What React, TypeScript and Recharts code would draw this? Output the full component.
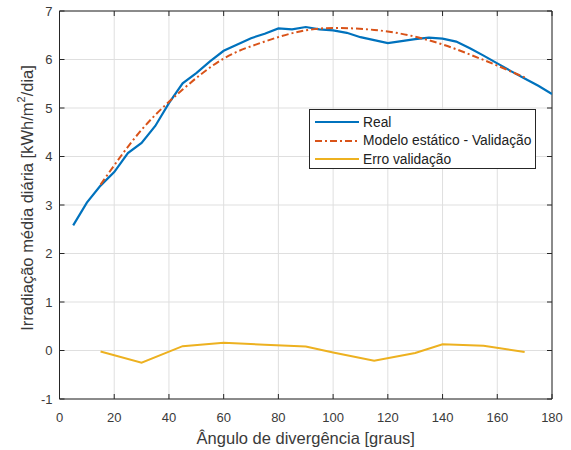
import React from 'react';
import {
    LineChart, Line, XAxis, YAxis, CartesianGrid, Legend, ReferenceLine, Label,
} from 'recharts';

// angles in degrees
const realAngles = [5, 10, 15, 20, 25, 30, 35, 40, 45, 50, 55, 60, 65, 70, 75, 80, 85, 90,
    95, 100, 105, 110, 115, 120, 125, 130, 135, 140, 145, 150, 155, 160, 165, 170, 175, 180];
const realValues = [2.58, 3.05, 3.40, 3.68, 4.07, 4.28, 4.63, 5.10, 5.51, 5.72, 5.96, 6.18, 6.31,
    6.44, 6.53, 6.64, 6.62, 6.67, 6.62, 6.60, 6.55, 6.46, 6.40, 6.34, 6.38, 6.42, 6.45, 6.43,
    6.37, 6.23, 6.08, 5.92, 5.76, 5.61, 5.46, 5.29];

const validAngles = [15, 30, 45, 60, 75, 90, 100, 115, 130, 140, 155, 170];
const modelValues = [3.42, 4.55, 5.38, 6.02, 6.37, 6.60, 6.65, 6.61, 6.47, 6.31, 5.99, 5.63];
const errorValues = [-0.02, -0.25, 0.09, 0.16, 0.12, 0.08, -0.04, -0.21, -0.05, 0.13, 0.10, -0.03];

const xTicks = [0, 20, 40, 60, 80, 100, 120, 140, 160, 180];
const yTicks = [-1, 0, 1, 2, 3, 4, 5, 6, 7];

const realData = realAngles.map((x, i) => ({ x, real: realValues[i] }));
const modelData = validAngles.map((x, i) => ({ x, model: modelValues[i] }));
const errorData = validAngles.map((x, i) => ({ x, erro: errorValues[i] }));

const W = 571;
const H = 450;
const TOP = 11;
const LEFT = 59.5;
const RIGHT = 552;
const BOTTOM = 399;
const FONT = '"Liberation Sans", Arial, Helvetica, sans-serif';
const AXIS = '#262626';
const TXT = '#3a3a3a';

const BLUE = '#0072BD';
const ORANGE = '#D95319';
const YELLOW = '#EDB120';

function XTick(props: any) {
    const { x, y, payload } = props;
    return (
        <g>
            <line x1={x} x2={x} y1={y} y2={y - 5} stroke={AXIS} />
            <line x1={x} x2={x} y1={TOP} y2={TOP + 5} stroke={AXIS} />
            <text x={x} y={y + 23} textAnchor="middle" fontSize={13} fill={TXT} fontFamily={FONT}>
                {payload.value}
            </text>
        </g>
    );
}

function YTick(props: any) {
    const { x, y, payload } = props;
    return (
        <g>
            <line x1={x} x2={x + 5} y1={y} y2={y} stroke={AXIS} />
            <line x1={RIGHT - 5} x2={RIGHT} y1={y} y2={y} stroke={AXIS} />
            <text x={x - 7} y={y + 4.5} textAnchor="end" fontSize={13} fill={TXT} fontFamily={FONT}>
                {payload.value}
            </text>
        </g>
    );
}

function YLabel() {
    const cy = 198;
    const cx = 27;
    return (
        <text
            x={cx}
            y={cy}
            transform={`rotate(-90 ${cx} ${cy})`}
            textAnchor="middle"
            dominantBaseline="central"
            fontSize={16.5}
            fill={TXT}
            fontFamily={FONT}
        >
            Irradiação média diária [kWh/m
            <tspan dy={-6} fontSize={11}>2</tspan>
            <tspan dy={6}>/dia]</tspan>
        </text>
    );
}

const legendItems = [
    { label: 'Real', color: BLUE, dash: undefined as string | undefined },
    { label: 'Modelo estático - Validação', color: ORANGE, dash: '7 3 2 3' },
    { label: 'Erro validação', color: YELLOW, dash: undefined },
];

function LegendBox() {
    return (
        <div
            style={{
                width: 227,
                height: 60,
                boxSizing: 'border-box',
                border: `1px solid ${AXIS}`,
                background: '#fff',
                padding: '3px 0 0 4px',
                fontFamily: FONT,
                fontSize: 13.8,
                color: '#222',
            }}
        >
            {legendItems.map((it) => (
                <div key={it.label} style={{ display: 'flex', alignItems: 'center', height: 18.5 }}>
                    <svg width={46} height={10} style={{ marginRight: 3 }}>
                        <line x1={1} x2={45} y1={5} y2={5} stroke={it.color} strokeWidth={2} strokeDasharray={it.dash} />
                    </svg>
                    <span>{it.label}</span>
                </div>
            ))}
        </div>
    );
}

export default function App() {
    return (
        <div style={{ position: 'absolute', left: 0, top: 0, width: W, height: H, background: '#fff' }}>
            <LineChart
                width={W}
                height={H}
                margin={{ top: TOP, right: W - RIGHT, bottom: 0, left: 0 }}
            >
                <CartesianGrid stroke="#dfdfdf" strokeWidth={1} />
                <XAxis
                    type="number"
                    dataKey="x"
                    domain={[0, 180]}
                    ticks={xTicks}
                    allowDataOverflow
                    height={H - BOTTOM}
                    tickSize={0}
                    tickMargin={0}
                    tickLine={false}
                    axisLine={{ stroke: AXIS }}
                    tick={<XTick />}
                    interval={0}
                >
                    <Label
                        value="Ângulo de divergência [graus]"
                        position="insideBottom"
                        offset={6}
                        style={{ fontSize: 16.5, fill: TXT, fontFamily: FONT }}
                    />
                </XAxis>
                <YAxis
                    type="number"
                    domain={[-1, 7]}
                    ticks={yTicks}
                    allowDataOverflow
                    width={LEFT}
                    tickSize={0}
                    tickMargin={0}
                    tickLine={false}
                    axisLine={{ stroke: AXIS }}
                    tick={<YTick />}
                    interval={0}
                >
                    <Label content={<YLabel />} />
                </YAxis>
                <ReferenceLine y={7} stroke={AXIS} />
                <ReferenceLine x={180} stroke={AXIS} />
                <Legend
                    layout="vertical"
                    align="center"
                    verticalAlign="middle"
                    content={<LegendBox />}
                    wrapperStyle={{ position: 'absolute', left: 309, top: 109, width: 227 }}
                />
                <Line
                    data={realData}
                    dataKey="real"
                    name="Real"
                    type="linear"
                    stroke={BLUE}
                    strokeWidth={2.2}
                    dot={false}
                    isAnimationActive={false}
                />
                <Line
                    data={modelData}
                    dataKey="model"
                    name="Modelo estático - Validação"
                    type="monotone"
                    stroke={ORANGE}
                    strokeWidth={2}
                    strokeDasharray="7 3 2 3"
                    dot={false}
                    isAnimationActive={false}
                />
                <Line
                    data={errorData}
                    dataKey="erro"
                    name="Erro validação"
                    type="linear"
                    stroke={YELLOW}
                    strokeWidth={2}
                    dot={false}
                    isAnimationActive={false}
                />
            </LineChart>
        </div>
    );
}
